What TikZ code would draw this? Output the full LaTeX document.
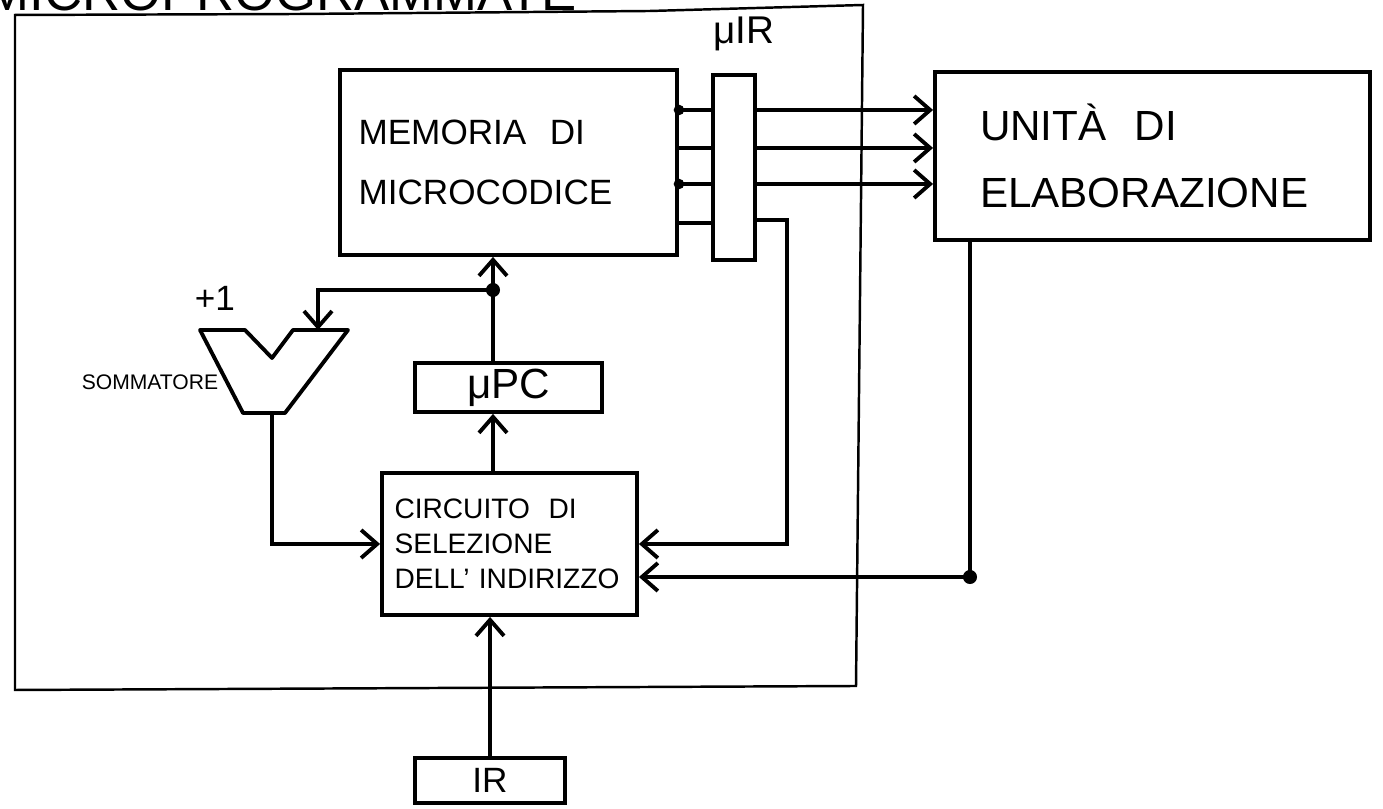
\documentclass[tikz,border=0pt]{standalone}
\usepackage{fontspec}
\setmainfont{Liberation Sans}
\usetikzlibrary{positioning}
\usetikzlibrary{calc}
\usetikzlibrary{arrows.meta}

\tikzset{
  blk/.style={draw, line width=1.1pt, inner sep=0pt},
  wire/.style={line width=1.1pt},
  arr/.style={wire, -{Straight Barb[length=1.6mm,width=2.8mm]}},
  jdot/.style={circle, fill, inner sep=0pt, minimum size=4pt},
}

\begin{document}
\begin{tikzpicture}
\useasboundingbox (0,0) rectangle (13.83,8.09);
\clip (0,0) rectangle (13.83,8.09);

%---------------------------------------
% Title (cut by the page edge) and frame
%---------------------------------------
\node[anchor=base west, inner sep=0pt, font=\fontsize{15}{15}\selectfont] (title) at (-0.15,7.98) {MICROPROGRAMMATE};
\draw[line width=0.7pt] (0.15,1.19) -- (0.15,7.94) -- (3.0,7.95) -- (6.5,7.98)
  -- (8.63,8.04) -- (8.56,1.23) -- cycle;

%---------------------------------------
% Blocks
%---------------------------------------
\node[blk, minimum width=3.37cm, minimum height=1.85cm, text width=3.0cm, align=left,
  font=\fontsize{10}{17}\selectfont] (mem) at (5.085,6.465) {MEMORIA\ \ DI\\MICROCODICE};
\node[blk, minimum width=0.42cm, minimum height=1.85cm] (mir) at (7.34,6.415) {};
\node[above=0.1cm of mir, xshift=0.1cm, font=\fontsize{11}{11}\selectfont] (mirlab) {μIR};
\node[blk, minimum width=4.35cm, minimum height=1.68cm, text width=3.45cm, align=left,
  font=\fontsize{12}{19}\selectfont] (unit) at (11.525,6.53) {UNITÀ\ \ DI\\ELABORAZIONE};
\node[blk, minimum width=1.87cm, minimum height=0.49cm, font=\fontsize{12}{12}\selectfont] (upc) at (5.085,4.215) {μPC};
\node[blk, minimum width=2.55cm, minimum height=1.42cm, text width=2.3cm, align=left,
  font=\fontsize{8}{10}\selectfont] (sel) at (5.095,2.65) {CIRCUITO\ \ DI\\SELEZIONE\\DELL' INDIRIZZO};
\node[blk, minimum width=1.5cm, minimum height=0.45cm, font=\fontsize{10}{10}\selectfont] (ir) at (4.9,0.285) {IR};

% adder
\draw[wire, line join=round] (2.00,4.79) -- (2.45,4.79) -- (2.72,4.51) -- (2.93,4.79)
  -- (3.48,4.79) -- (2.85,3.96) -- (2.43,3.96) -- cycle;
\coordinate (addin) at (3.18,4.79);
\coordinate (addout) at (2.72,3.96);
\node[font=\fontsize{10}{10}\selectfont] (plus) at (2.15,5.11) {+1};
\node[font=\fontsize{6}{6}\selectfont] (som) at (1.50,4.27) {SOMMATORE};

%---------------------------------------
% Connections
%---------------------------------------
\foreach \y in {6.99,6.61,6.25,5.86}
  \draw[wire] (mem.east |- 0,\y) -- (mir.west |- 0,\y);
\foreach \y in {6.99,6.25}
  \node[jdot, minimum size=3pt] at (mem.east |- 0,\y) {};
\foreach \y in {6.99,6.61,6.25}
  \draw[arr] (mir.east |- 0,\y) -- (unit.west |- 0,\y);

\coordinate (br) at (4.93,5.19);
\draw[arr] (upc.north -| br) -- (mem.south -| br);
\draw[arr] (br) -| (addin);
\node[jdot] at (br) {};
\draw[arr] (sel.north -| br) -- (upc.south -| br);
\draw[arr] (ir.north) -- (ir.north |- sel.south);
\draw[arr] (addout) |- (sel.west);

\coordinate (mirout) at (7.55,5.89);
\draw[arr] (mirout) -- ++(0.32,0) |- (sel.east);

\coordinate (fb) at (9.70,2.32);
\draw[arr] (unit.south -| fb) -- (fb) -- (sel.east |- fb);
\node[jdot] at (fb) {};

\end{tikzpicture}
\end{document}
